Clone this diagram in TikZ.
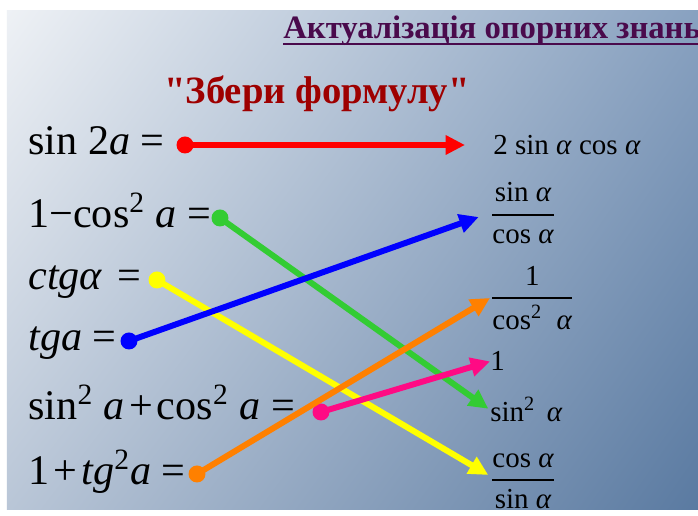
\documentclass[tikz,border=0pt]{standalone}
\usepackage{amsmath}
\usepackage{fontspec}
\setmainfont{Liberation Serif}
\newfontfamily\plainserif{Liberation Serif}
\usetikzlibrary{arrows.meta, positioning, shadings}
\definecolor{titlepurple}{HTML}{4A0A4C}
\definecolor{headred}{HTML}{9E0000}
\definecolor{bgtl}{HTML}{EEF1F5}
\definecolor{bgtr}{HTML}{88A1C0}
\definecolor{bgbl}{HTML}{B9C6D7}
\definecolor{bgbr}{HTML}{5A7AA1}
\definecolor{linkred}{HTML}{FF0000}
\definecolor{linkgreen}{HTML}{33CC33}
\definecolor{linkyellow}{HTML}{FFFF00}
\definecolor{linkblue}{HTML}{0000FF}
\definecolor{linkpink}{HTML}{FF0A84}
\definecolor{linkorange}{HTML}{FF8000}
\newcommand{\va}{\textit{a}}
\newcommand{\val}{\textit{α}}
\newcommand{\sqr}{\textsuperscript{2}}
\newcommand{\tsp}{\hspace{0.1em}}
\newcommand{\ffrac}[2]{$\genfrac{}{}{1.1pt}{0}{\text{#1}}{\text{#2}}$}
\tikzset{
	lhs/.style={anchor=base west, inner sep=0pt, font=\fontsize{24}{28}\selectfont},
	rhs/.style={anchor=base west, inner sep=0pt, font=\fontsize{16.5}{19}\selectfont},
	frac_rhs/.style={anchor=west, inner sep=0pt, font=\fontsize{16.5}{19}\selectfont},
	dot/.style={circle, fill=#1, inner sep=0pt, minimum size=0.34cm},
	link/.style={draw=#1, line width=3.4pt, -{Triangle[length=11pt, width=10.5pt]}},
	title_txt/.style={anchor=base west, inner sep=0pt, font=\fontsize{18.6}{22}\selectfont\bfseries, text=titlepurple},
	head_txt/.style={anchor=base, inner sep=0pt, font=\plainserif\fontsize{22}{26}\selectfont\bfseries, text=headred}
}
\begin{document}
\begin{tikzpicture}[x=0.02cm, y=-0.02cm]
	\clip (0,0) rectangle (698,516);
	\fill[white] (0,0) rectangle (698,516);
	\shade[upper left=bgtl, upper right=bgtr, lower left=bgbl, lower right=bgbr] (7,11) rectangle (698,510);
	% titles
	\node[title_txt] (ttl) at (283,39) {Актуалізація опорних знань};
	\draw[titlepurple, line width=1.6pt] ([yshift=-0.1cm]ttl.base west) -- ([yshift=-0.1cm]ttl.base east);
	\node[head_txt] (head) at (317,104) {"Збери формулу"};
	% left column
	\node[lhs] (l1) at (28,155) {sin 2\va{} =};
	\node[lhs] (l2) at (28,228) {1−cos\sqr{} \va{} =};
	\node[lhs] (l3) at (28,290) {\textit{ctg}\val\hspace{0.35em}=};
	\node[lhs] (l4) at (28,351) {\textit{tga} =};
	\node[lhs] (l5) at (28,420) {sin\sqr{} \va\tsp+\tsp cos\sqr{} \va{} =};
	\node[lhs] (l6) at (28,485) {1\tsp+\tsp\textit{tg}\sqr\va{} =};
	% right column
	\node[rhs] (r1) at (493,155) {2 sin \val{} cos \val};
	\node[frac_rhs] (r2) at (490,213) {\ffrac{sin \val}{cos \val}};
	\node[frac_rhs] (r3) at (490,298) {\ffrac{1}{cos\sqr\hspace{0.5em}\val}};
	\node[rhs] (r4) at (490,371) {1};
	\node[rhs] (r5) at (490,422) {sin\sqr\hspace{0.4em}\val};
	\node[frac_rhs] (r6) at (490,481) {\ffrac{cos \val}{sin \val}};
	% dots
	\node[dot=linkred] (d1) at (185,145) {};
	\node[dot=linkgreen] (d2) at (220,218) {};
	\node[dot=linkyellow] (d3) at (157,280) {};
	\node[dot=linkblue] (d4) at (129,341) {};
	\node[dot=linkpink] (d5) at (321,412) {};
	\node[dot=linkorange] (d6) at (197,474) {};
	% links
	\draw[link=linkred, shorten >=0.56cm] (d1.center) -- (d1 -| r1.west);
	\draw[link=linkgreen, shorten >=0.04cm] (d2.center) -- (r5.west);
	\draw[link=linkyellow, shorten >=0.04cm] (d3.center) -- ([yshift=0.1cm]r6.west);
	\draw[link=linkblue, shorten >=0.24cm] (d4.center) -- (r2.west);
	\draw[link=linkpink] (d5.center) -- (r4.west);
	\draw[link=linkorange] (d6.center) -- (r3.west);
\end{tikzpicture}
\end{document}
